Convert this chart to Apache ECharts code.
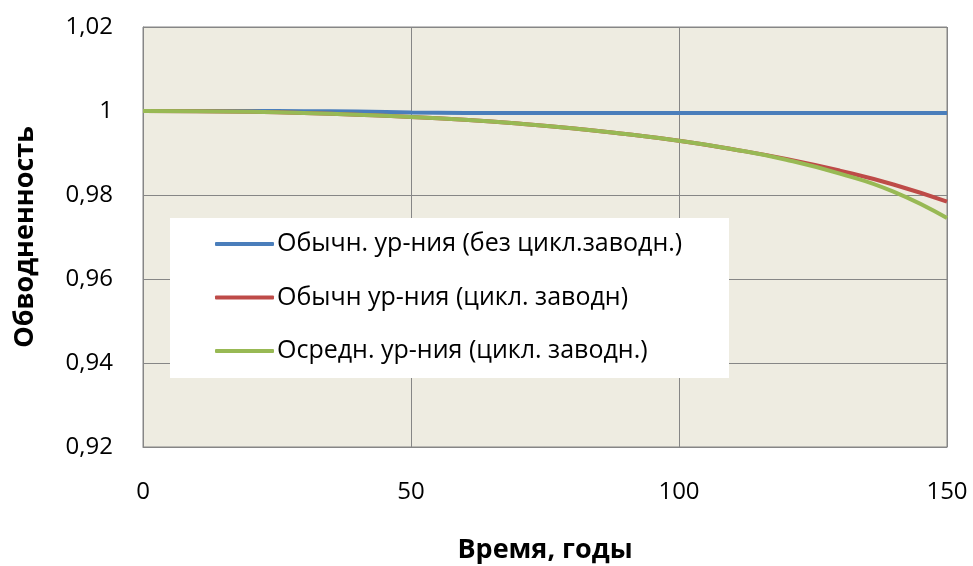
<!DOCTYPE html>
<html>
<head>
<meta charset="utf-8">
<script src="https://cdn.jsdelivr.net/npm/echarts@6/dist/echarts.min.js"></script>
<style>
  html, body { margin: 0; padding: 0; background: #ffffff; overflow: hidden; }
  #chart { width: 973px; height: 566px; }
</style>
</head>
<body>
<div id="chart"></div>
<script>
// Время, годы
var years = [0, 10, 20, 30, 40, 50, 60, 70, 80, 90, 100, 110, 120, 130, 140, 150];

// Обводненность по трём вариантам расчёта
var plainNoCycle = [1, 1, 1, 0.99995, 0.9999, 0.99965, 0.99955, 0.9995, 0.9995, 0.9995, 0.9995, 0.9995, 0.9995, 0.9995, 0.9995, 0.9995];
var plainCycle = [1, 0.99995, 0.9998, 0.9995, 0.9991, 0.9986, 0.9979, 0.9970, 0.9959, 0.9945, 0.9929, 0.9909, 0.9886, 0.9858, 0.9825, 0.9784];
var averagedCycle = [1, 0.99995, 0.9998, 0.9995, 0.9991, 0.9986, 0.9979, 0.9970, 0.9959, 0.9945, 0.9929, 0.9909, 0.9884, 0.9851, 0.9808, 0.9745];

var seriesNames = [
  'Обычн. ур-ния (без цикл.заводн.)',
  'Обычн ур-ния (цикл. заводн)',
  'Осредн. ур-ния (цикл. заводн.)'
];
var seriesColors = ['#4A7EBB', '#BE4B48', '#98B954'];
var seriesValues = [plainNoCycle, plainCycle, averagedCycle];

var yTicks = { min: 0.92, max: 1.02, step: 0.02 };
var xTicks = { min: 0, max: 150, step: 50 };

function pairs(values) {
  return years.map(function (t, i) { return [t, values[i]]; });
}

var font = '"Open Sans", "Noto Sans", sans-serif';

var chart = echarts.init(document.getElementById('chart'), null, { renderer: 'canvas' });

chart.setOption({
  animation: false,
  backgroundColor: '#ffffff',
  grid: {
    left: 143, right: 26, top: 27, bottom: 119,
    outerBoundsMode: 'none',
    containLabel: false,
    show: true,
    backgroundColor: '#EEECE1',
    borderColor: '#868686',
    borderWidth: 1
  },
  xAxis: {
    type: 'value',
    min: xTicks.min, max: xTicks.max, interval: xTicks.step,
    name: 'Время, годы',
    nameLocation: 'middle',
    nameGap: 90,
    nameTextStyle: { fontFamily: font, fontSize: 27, fontWeight: 'bold', color: '#000' },
    axisLine: { show: true, lineStyle: { color: '#868686' } },
    axisTick: { show: false },
    axisLabel: { margin: 33, fontFamily: font, fontSize: 24, color: '#000' },
    splitLine: { show: true, lineStyle: { color: '#868686', width: 1 } }
  },
  yAxis: {
    type: 'value',
    min: yTicks.min, max: yTicks.max, interval: yTicks.step,
    name: 'Обводненность',
    nameLocation: 'middle',
    nameGap: 104,
    nameTextStyle: { fontFamily: font, fontSize: 27, fontWeight: 'bold', color: '#000' },
    axisLine: { show: true, lineStyle: { color: '#868686' } },
    axisTick: { show: false },
    axisLabel: {
      margin: 30, fontFamily: font, fontSize: 24, color: '#000',
      formatter: function (v) { return String(parseFloat(v.toFixed(2))).replace('.', ','); }
    },
    splitLine: { show: true, lineStyle: { color: '#868686', width: 1 } }
  },
  graphic: [{
    type: 'rect',
    left: 170, top: 218, z: 50,
    shape: { width: 559, height: 160 },
    style: { fill: '#ffffff' }
  }],
  legend: {
    orient: 'vertical',
    left: 215, top: 231,
    z: 60,
    itemWidth: 59, itemHeight: 4,
    itemGap: 27.5,
    icon: 'roundRect',
    padding: 0,
    textStyle: { fontFamily: font, fontSize: 25, lineHeight: 26, color: '#000', padding: [0, 0, 0, -2] },
    data: seriesNames
  },
  series: seriesNames.map(function (name, i) {
    return {
      name: name,
      type: 'line',
      data: pairs(seriesValues[i]),
      smooth: true,
      showSymbol: false,
      symbol: 'none',
      z: 2 + i,
      lineStyle: { color: seriesColors[i], width: 4 },
      itemStyle: { color: seriesColors[i] }
    };
  })
});
</script>
</body>
</html>
